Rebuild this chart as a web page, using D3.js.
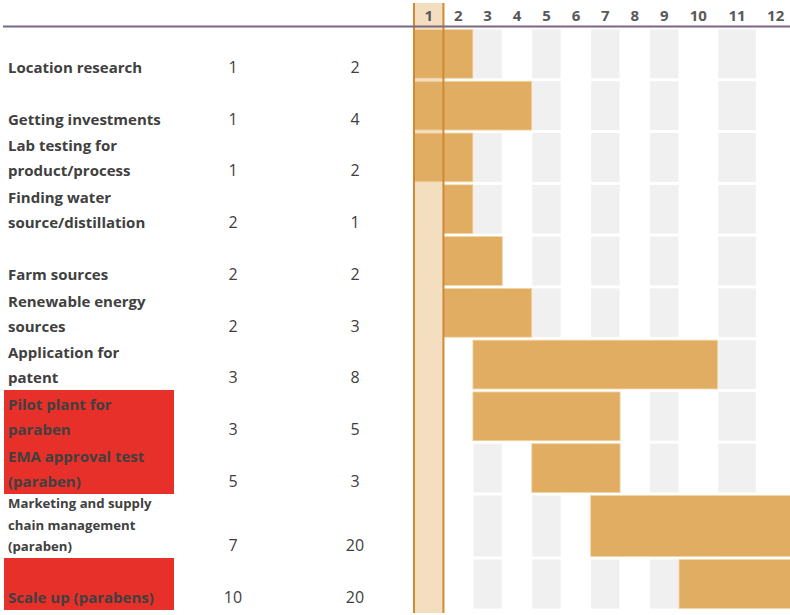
<!DOCTYPE html>
<html>
<head>
<meta charset="utf-8">
<script src="https://cdn.jsdelivr.net/npm/d3@7"></script>
<style>
  html, body { margin: 0; padding: 0; background: #fff; }
  svg { display: block; }
</style>
</head>
<body>
<svg id="chart" width="790" height="615"></svg>
<script>
// ---- data ----
const tasks = [
  "Location research",
  "Getting investments",
  "Lab testing for\nproduct/process",
  "Finding water\nsource/distillation",
  "Farm sources",
  "Renewable energy\nsources",
  "Application for\npatent",
  "Pilot plant for\nparaben",
  "EMA approval test\n(paraben)",
  "Marketing and supply\nchain management\n(paraben)",
  "Scale up (parabens)"
];
const starts    = [1, 1, 1, 2, 2, 2, 3, 3, 5, 7, 10];
const durations = [2, 4, 2, 1, 2, 3, 8, 5, 3, 20, 20];
const flagged   = [false, false, false, false, false, false, false, true, true, false, true];
const periods   = [1, 2, 3, 4, 5, 6, 7, 8, 9, 10, 11, 12];
const highlightPeriod = 1;

// ---- layout ----
const svg = d3.select("#chart");
const C = {
  bar: "#e0ad62", gray: "#f0f0f0", beige: "#f3dfbf", beigeLine: "#cd8b36",
  text: "#404040", head: "#595959", rule: "#7a6883", red: "#e8302a"
};
const FONT = "'Open Sans', Lato, sans-serif";

// piecewise scale: the two-digit columns are wider
const x = d3.scaleLinear().domain([1, 10, 13]).range([414, 679, 795]);
// rows: the 3-line marketing row is taller
const y = d3.scaleLinear().domain([0, 9, 10, 11]).range([28, 494, 558, 610]);
const lastEdge = periods[periods.length - 1] + 1;

const rows = tasks.map((t, i) => ({
  i, label: t.split("\n"), start: starts[i], dur: durations[i], flag: flagged[i]
}));

// red highlight boxes behind flagged labels
svg.append("g").attr("shape-rendering", "crispEdges")
  .selectAll("rect").data(rows.filter(r => r.flag)).join("rect")
  .attr("x", 4).attr("width", 170)
  .attr("y", r => Math.round(y(r.i))).attr("height", r => Math.round(y(r.i + 1)) - Math.round(y(r.i)))
  .attr("fill", C.red);

// highlight column (period 1)
svg.append("rect")
  .attr("x", x(highlightPeriod)).attr("width", x(highlightPeriod + 1) - x(highlightPeriod))
  .attr("y", 3).attr("height", 610)
  .attr("fill", C.beige);

// gray alternating cells
const cells = [];
rows.forEach(r => periods.forEach(p => {
  if (p % 2 === 1 && p !== highlightPeriod) cells.push({ r: r.i, p });
}));
svg.append("g").selectAll("rect").data(cells).join("rect")
  .attr("x", d => x(d.p) + 0.5)
  .attr("width", d => x(d.p + 1) - x(d.p) - 1)
  .attr("y", d => y(d.r) + 1.5)
  .attr("height", d => y(d.r + 1) - y(d.r) - 3)
  .attr("fill", C.gray);

// bars
svg.append("g").selectAll("rect").data(rows).join("rect")
  .attr("x", r => x(r.start))
  .attr("width", r => x(Math.min(r.start + r.dur, lastEdge)) - x(r.start))
  .attr("y", r => y(r.i) + 1.5)
  .attr("height", r => y(r.i + 1) - y(r.i) - 3)
  .attr("fill", C.bar)
  .attr("stroke", "#f2d6a6").attr("stroke-width", 0.8);

// highlight column borders
[highlightPeriod, highlightPeriod + 1].forEach(p => {
  svg.append("line")
    .attr("x1", x(p)).attr("x2", x(p))
    .attr("y1", 3).attr("y2", 613)
    .attr("stroke", C.beigeLine).attr("stroke-width", 2);
});

// header rule
svg.append("line")
  .attr("x1", 3).attr("x2", 790).attr("y1", 26.5).attr("y2", 26.5)
  .attr("stroke", C.rule).attr("stroke-width", 2);

// period header labels
svg.append("g").selectAll("text").data(periods).join("text")
  .attr("x", p => (x(p) + x(p + 1)) / 2)
  .attr("y", 21)
  .attr("text-anchor", "middle")
  .attr("font-family", FONT).attr("font-weight", 700).attr("font-size", 15)
  .attr("fill", C.head)
  .text(p => p);

// task labels
const lab = svg.append("g").selectAll("text").data(rows).join("text")
  .attr("font-family", FONT).attr("font-weight", 700)
  .attr("font-size", r => r.label.length > 2 ? 13.2 : 15)
  .attr("fill", C.text);
lab.each(function (r) {
  const n = r.label.length;
  const lh = n > 2 ? 21.5 : 25;
  const base = y(r.i + 1) - 7;
  d3.select(this).selectAll("tspan").data(r.label).join("tspan")
    .attr("x", 8)
    .attr("y", (d, k) => base - (n - 1 - k) * lh)
    .text(d => d);
});

// start and duration columns
svg.append("g").selectAll("text").data(rows).join("text")
  .attr("x", 233).attr("y", r => y(r.i + 1) - 7)
  .attr("text-anchor", "middle")
  .attr("font-family", FONT).attr("font-size", 16).attr("fill", C.text)
  .text(r => r.start);
svg.append("g").selectAll("text").data(rows).join("text")
  .attr("x", 355).attr("y", r => y(r.i + 1) - 7)
  .attr("text-anchor", "middle")
  .attr("font-family", FONT).attr("font-size", 16).attr("fill", C.text)
  .text(r => r.dur);
</script>
</body>
</html>
